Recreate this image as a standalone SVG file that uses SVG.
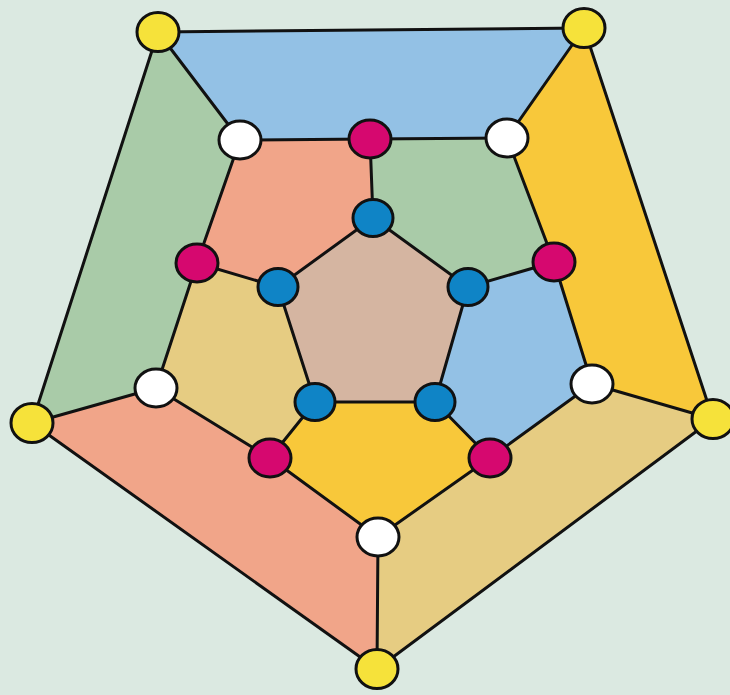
<svg xmlns="http://www.w3.org/2000/svg" width="730" height="695" viewBox="0 0 730 695">
<style>
.e{stroke:#111;stroke-width:3;stroke-linecap:round}
.n{stroke:#111;stroke-width:3}
.y{fill:#f6e23a}.w{fill:#ffffff}.m{fill:#d6086f}.b{fill:#0f84c6}
.f{stroke:none}
</style>
<rect width="730" height="695" fill="#dbe9e1"/>
<g id="faces">
<polygon class="f" fill="#93c1e5" points="158,32 584,28 507,138 370,139 240,140"/>
<polygon class="f" fill="#a9cba8" points="158,32 240,140 197,263 156,388 32,423"/>
<polygon class="f" fill="#f8c83a" points="584,28 713,419 592,384 554,262 507,138"/>
<polygon class="f" fill="#e6cc82" points="713,419 377,669 378,537 490,458 592,384"/>
<polygon class="f" fill="#f1a589" points="377,669 32,423 156,388 270,458 378,537"/>
<polygon class="f" fill="#f1a589" points="370,139 240,140 197,263 278,287 373,218"/>
<polygon class="f" fill="#a9cba8" points="370,139 373,218 468,287 554,262 507,138"/>
<polygon class="f" fill="#93c1e5" points="554,262 592,384 490,458 435,402 468,287"/>
<polygon class="f" fill="#f8c83a" points="490,458 378,537 270,458 315,402 435,402"/>
<polygon class="f" fill="#e6cc82" points="270,458 156,388 197,263 278,287 315,402"/>
<polygon class="f" fill="#d5b5a1" points="373,218 468,287 435,402 315,402 278,287"/>
</g>
<g id="connectors" class="e">
<line x1="158" y1="32" x2="584" y2="28"/>
<line x1="584" y1="28" x2="713" y2="419"/>
<line x1="713" y1="419" x2="377" y2="669"/>
<line x1="377" y1="669" x2="32" y2="423"/>
<line x1="32" y1="423" x2="158" y2="32"/>
<line x1="158" y1="32" x2="240" y2="140"/>
<line x1="584" y1="28" x2="507" y2="138"/>
<line x1="713" y1="419" x2="592" y2="384"/>
<line x1="377" y1="669" x2="378" y2="537"/>
<line x1="32" y1="423" x2="156" y2="388"/>
<line x1="240" y1="140" x2="370" y2="139"/>
<line x1="370" y1="139" x2="507" y2="138"/>
<line x1="507" y1="138" x2="554" y2="262"/>
<line x1="554" y1="262" x2="592" y2="384"/>
<line x1="592" y1="384" x2="490" y2="458"/>
<line x1="490" y1="458" x2="378" y2="537"/>
<line x1="378" y1="537" x2="270" y2="458"/>
<line x1="270" y1="458" x2="156" y2="388"/>
<line x1="156" y1="388" x2="197" y2="263"/>
<line x1="197" y1="263" x2="240" y2="140"/>
<line x1="370" y1="139" x2="373" y2="218"/>
<line x1="554" y1="262" x2="468" y2="287"/>
<line x1="490" y1="458" x2="435" y2="402"/>
<line x1="270" y1="458" x2="315" y2="402"/>
<line x1="197" y1="263" x2="278" y2="287"/>
<line x1="373" y1="218" x2="468" y2="287"/>
<line x1="468" y1="287" x2="435" y2="402"/>
<line x1="435" y1="402" x2="315" y2="402"/>
<line x1="315" y1="402" x2="278" y2="287"/>
<line x1="278" y1="287" x2="373" y2="218"/>
</g>
<g id="nodes">
<g id="y1"><ellipse class="n y" cx="158" cy="32" rx="21" ry="19.5"/></g>
<g id="y2"><ellipse class="n y" cx="584" cy="28" rx="21" ry="19.5"/></g>
<g id="y3"><ellipse class="n y" cx="713" cy="419" rx="21" ry="19.5"/></g>
<g id="y4"><ellipse class="n y" cx="377" cy="669" rx="21" ry="19.5"/></g>
<g id="y5"><ellipse class="n y" cx="32" cy="423" rx="21" ry="19.5"/></g>
<g id="w1"><ellipse class="n w" cx="240" cy="140" rx="21" ry="19"/></g>
<g id="w2"><ellipse class="n w" cx="507" cy="138" rx="21" ry="19"/></g>
<g id="w3"><ellipse class="n w" cx="592" cy="384" rx="21" ry="19"/></g>
<g id="w4"><ellipse class="n w" cx="378" cy="537" rx="21" ry="19"/></g>
<g id="w5"><ellipse class="n w" cx="156" cy="388" rx="21" ry="19"/></g>
<g id="m1"><ellipse class="n m" cx="370" cy="139" rx="21" ry="19"/></g>
<g id="m2"><ellipse class="n m" cx="554" cy="262" rx="21" ry="19"/></g>
<g id="m3"><ellipse class="n m" cx="490" cy="458" rx="21" ry="19"/></g>
<g id="m4"><ellipse class="n m" cx="270" cy="458" rx="21" ry="19"/></g>
<g id="m5"><ellipse class="n m" cx="197" cy="263" rx="21" ry="19"/></g>
<g id="b1"><ellipse class="n b" cx="373" cy="218" rx="20" ry="18.5"/></g>
<g id="b2"><ellipse class="n b" cx="468" cy="287" rx="20" ry="18.5"/></g>
<g id="b3"><ellipse class="n b" cx="435" cy="402" rx="20" ry="18.5"/></g>
<g id="b4"><ellipse class="n b" cx="315" cy="402" rx="20" ry="18.5"/></g>
<g id="b5"><ellipse class="n b" cx="278" cy="287" rx="20" ry="18.5"/></g>
</g>
</svg>
